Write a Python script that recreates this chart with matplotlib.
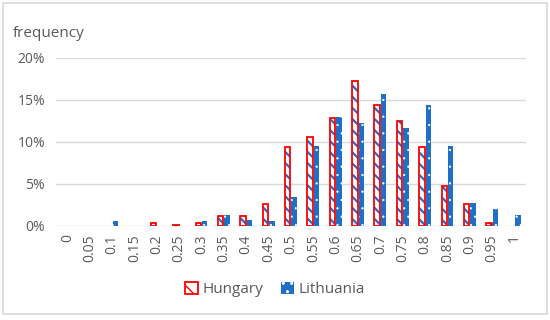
import matplotlib
matplotlib.use("Agg")
import matplotlib.pyplot as plt
import numpy as np
from matplotlib.patches import Rectangle, Patch
from matplotlib.ticker import PercentFormatter

categories = ["0", "0.05", "0.1", "0.15", "0.2", "0.25", "0.3", "0.35", "0.4", "0.45", "0.5",
              "0.55", "0.6", "0.65", "0.7", "0.75", "0.8", "0.85", "0.9", "0.95", "1"]
hungary = [0, 0, 0, 0, 0.3, 0.16, 0.4, 1.19, 1.19, 2.6, 9.44,
           10.6, 12.8, 17.3, 14.4, 12.5, 9.44, 4.72, 2.58, 0.4, 0]
lithuania = [0, 0, 0.63, 0, 0, 0, 0.63, 1.3, 0.7, 0.63, 3.4,
             9.56, 12.98, 12.26, 15.7, 11.6, 14.4, 9.52, 2.7, 1.98, 1.3]
yticks = [0, 5, 10, 15, 20]

RED = "#FF0000"
BLUE = "#1F6FC6"
GRAY = "#595959"
GRID = "#D9D9D9"

plt.rcParams['font.family'] = ['Open Sans', 'DejaVu Sans']

fig = plt.figure(figsize=(5.5, 3.2), dpi=100)
ax = fig.add_axes([0.102, 0.294, 0.854, 0.525])

x = np.arange(len(categories))
h = np.array(hungary, dtype=float)
l = np.array(lithuania, dtype=float)
hm = h > 0
lm = l > 0
w = 0.245
off = 0.145

# Hungary: white fill with blue diagonal hatch, red outline
with plt.rc_context({'hatch.linewidth': 1.6}):
    ax.bar(x[hm] - off, h[hm], w, color="white", edgecolor=BLUE, hatch="\\\\\\", linewidth=0, zorder=3)
ax.bar(x[hm] - off, h[hm], w, fill=False, edgecolor=RED, linewidth=1.3, zorder=4)
# Lithuania: blue fill with small white dots
with plt.rc_context({'hatch.linewidth': 0.4}):
    ax.bar(x[lm] + off, l[lm], w, color=BLUE, edgecolor="white", hatch="..", linewidth=0, zorder=3)

ax.set_xlim(-0.5, len(categories) - 0.5)
ax.set_ylim(0, 20)
ax.set_yticks(yticks)
ax.yaxis.set_major_formatter(PercentFormatter(100, decimals=0))
ax.set_xticks(x)
ax.set_xticklabels(categories, rotation=90)
ax.tick_params(axis='both', length=0, colors=GRAY, labelsize=10)
ax.tick_params(axis='y', pad=8)
ax.tick_params(axis='x', pad=6)
ax.grid(axis='y', color=GRID, linewidth=1, zorder=0)
for s in ax.spines.values():
    s.set_visible(False)

fig.text(0.024, 0.895, "frequency", color=GRAY, fontsize=11, ha='left', va='center')

with plt.rc_context({'hatch.linewidth': 1.6}):
    hp = Patch(facecolor="white", edgecolor=RED, hatch="\\\\", linewidth=1.3)
with plt.rc_context({'hatch.linewidth': 0.4}):
    lp = Patch(facecolor=BLUE, edgecolor="white", hatch="..", linewidth=0)
leg = fig.legend([hp, lp], ["Hungary", "Lithuania"], loc='center', bbox_to_anchor=(0.5, 0.094),
                 ncol=2, frameon=False, fontsize=11, handlelength=0.8, handleheight=0.8,
                 handletextpad=0.3, columnspacing=1.2)
for t in leg.get_texts():
    t.set_color(GRAY)

fig.patches.append(Rectangle((0.006, 0.02), 0.988, 0.97, transform=fig.transFigure,
                             fill=False, edgecolor=GRID, linewidth=1.2))

fig.savefig("out.png", dpi=100)
